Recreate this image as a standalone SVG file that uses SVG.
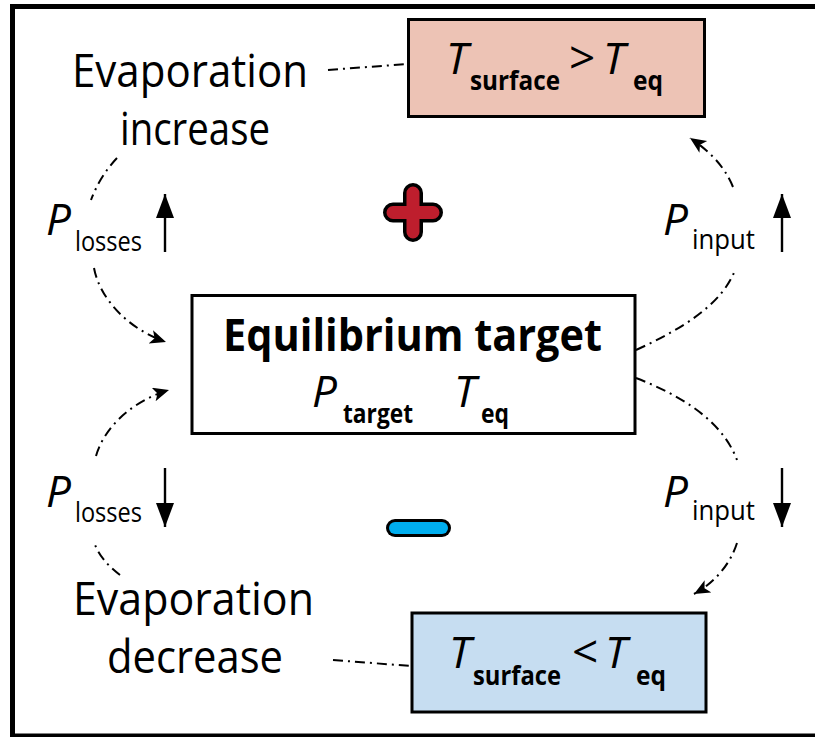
<svg xmlns="http://www.w3.org/2000/svg" width="815" height="737" viewBox="0 0 815 737">
<style>
text{font-family:"Open Sans","Liberation Sans",sans-serif;fill:#000}
.lab{font-size:46px}
.it{font-style:italic;font-size:44px}
.sub{font-weight:bold;font-size:27px}
.subr{font-size:27px}
.box{stroke:#000;stroke-width:3}
.dd{fill:none;stroke:#000;stroke-width:2;stroke-dasharray:10 5 2 5}
.ar{stroke:#000;stroke-width:2.4;fill:none}
</style>
<defs>
<marker id="bh" markerUnits="userSpaceOnUse" markerWidth="18" markerHeight="16" refX="16" refY="7" orient="auto">
<path d="M0,0 L16,7 L0,14 L4,7 z" fill="#000"/>
</marker>
<marker id="sh" markerUnits="userSpaceOnUse" markerWidth="26" markerHeight="20" refX="24" refY="9" orient="auto">
<path d="M0,0 L24,9 L0,18 z" fill="#000"/>
</marker>
</defs>
<rect x="12.5" y="6.5" width="820" height="729.5" fill="#fff" stroke="#000" stroke-width="5"/>

<g id="connectors">
<path class="dd" d="M328,70 L407,64"/>
<path class="dd" d="M333,660 L411,666"/>
<path class="dd" d="M117,158 Q100,176 91,200"/>
<path class="dd" d="M94,268 C100,300 130,330 166,342" marker-end="url(#bh)"/>
<path class="dd" d="M636,350 C680,330 722,305 735,270"/>
<path class="dd" d="M733,187 C724,165 708,150 690,138" marker-end="url(#bh)"/>
<path class="dd" d="M636,378 C680,395 722,420 737,460"/>
<path class="dd" d="M737,543 C730,565 714,583 694,594" marker-end="url(#bh)"/>
<path class="dd" d="M120,575 Q100,560 94,542"/>
<path class="dd" d="M96,456 C105,425 135,400 169,390" marker-end="url(#bh)"/>
</g>

<g id="node-hot">
<rect class="box" x="408.5" y="19.5" width="296" height="97" fill="#edc3b5"/>
<text class="it" x="446" y="74">T</text>
<text class="sub" x="470" y="90" textLength="90" lengthAdjust="spacingAndGlyphs">surface</text>
<text x="569" y="74" style="font-size:46px">&gt;</text>
<text class="it" x="603" y="74">T</text>
<text class="sub" x="633" y="90" textLength="30" lengthAdjust="spacingAndGlyphs">eq</text>
</g>

<g id="node-cold">
<rect class="box" x="412" y="613" width="294" height="99" fill="#c6ddf1"/>
<text class="it" x="449" y="668">T</text>
<text class="sub" x="473" y="685" textLength="88" lengthAdjust="spacingAndGlyphs">surface</text>
<text x="572" y="668" style="font-size:46px">&lt;</text>
<text class="it" x="605" y="668">T</text>
<text class="sub" x="636" y="685" textLength="30" lengthAdjust="spacingAndGlyphs">eq</text>
</g>

<g id="node-eq">
<rect class="box" x="192" y="295.5" width="443" height="138" fill="#fff"/>
<text x="412.5" y="351" text-anchor="middle" textLength="379" lengthAdjust="spacingAndGlyphs" style="font-weight:bold;font-size:44px">Equilibrium target</text>
<text class="it" x="312" y="407">P</text>
<text class="sub" x="343" y="423" textLength="70" lengthAdjust="spacingAndGlyphs">target</text>
<text class="it" x="454" y="407">T</text>
<text class="sub" x="481" y="423" textLength="28" lengthAdjust="spacingAndGlyphs">eq</text>
</g>

<g id="label-evap-inc">
<text class="lab" x="190" y="87" text-anchor="middle" textLength="236" lengthAdjust="spacingAndGlyphs">Evaporation</text>
<text class="lab" x="195" y="145" text-anchor="middle" textLength="150" lengthAdjust="spacingAndGlyphs">increase</text>
</g>

<g id="label-evap-dec">
<text class="lab" x="193.5" y="615" text-anchor="middle" textLength="241" lengthAdjust="spacingAndGlyphs">Evaporation</text>
<text class="lab" x="195" y="673" text-anchor="middle" textLength="176" lengthAdjust="spacingAndGlyphs">decrease</text>
</g>

<g id="label-losses-up">
<text class="it" x="46" y="235">P</text>
<text class="subr" x="75" y="251" textLength="67" lengthAdjust="spacingAndGlyphs">losses</text>
<line class="ar" x1="165" y1="252" x2="165" y2="194" marker-end="url(#sh)"/>
</g>

<g id="label-input-up">
<text class="it" x="663" y="235">P</text>
<text class="subr" x="692" y="249" textLength="63" lengthAdjust="spacingAndGlyphs">input</text>
<line class="ar" x1="782" y1="252" x2="782" y2="194" marker-end="url(#sh)"/>
</g>

<g id="label-losses-down">
<text class="it" x="46" y="507">P</text>
<text class="subr" x="75" y="522" textLength="67" lengthAdjust="spacingAndGlyphs">losses</text>
<line class="ar" x1="165" y1="468" x2="165" y2="527" marker-end="url(#sh)"/>
</g>

<g id="label-input-down">
<text class="it" x="663" y="507">P</text>
<text class="subr" x="692" y="520" textLength="63" lengthAdjust="spacingAndGlyphs">input</text>
<line class="ar" x1="782" y1="468" x2="782" y2="527" marker-end="url(#sh)"/>
</g>

<g id="sign-plus">
<path d="M413,193 V232 M393,212.5 H433" stroke="#000" stroke-width="20" stroke-linecap="round" fill="none"/>
<path d="M413,193 V232 M393,212.5 H433" stroke="#be1e2d" stroke-width="13" stroke-linecap="round" fill="none"/>
</g>

<g id="sign-minus">
<path d="M395,528 H442" stroke="#000" stroke-width="18" stroke-linecap="round" fill="none"/>
<path d="M395,528 H442" stroke="#00aeef" stroke-width="12" stroke-linecap="round" fill="none"/>
</g>
</svg>
